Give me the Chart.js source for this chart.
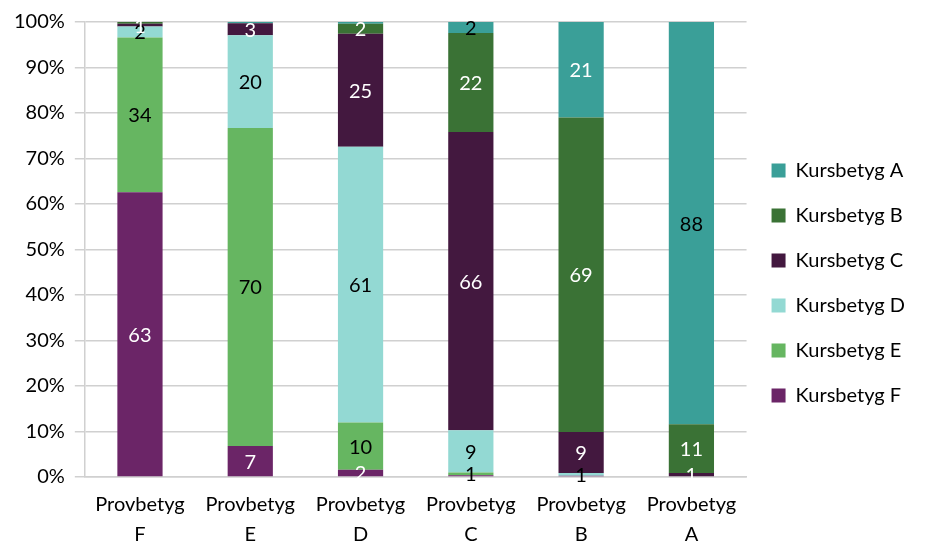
<!DOCTYPE html>
<html>
<head>
<meta charset="utf-8">
<script src="https://cdn.jsdelivr.net/npm/chart.js@4/dist/chart.umd.min.js"></script>
<style>
  body { margin: 0; background: #fff; }
  #wrap { width: 925px; height: 545px; }
</style>
</head>
<body>
<div id="wrap"><canvas id="bars"></canvas></div>
<script>
const categories = [['Provbetyg', 'F'], ['Provbetyg', 'E'], ['Provbetyg', 'D'], ['Provbetyg', 'C'], ['Provbetyg', 'B'], ['Provbetyg', 'A']];

// percent of students per Provbetyg column
const kursF = [62.6, 6.8, 1.6, 0.4, 0.3, 0];
const kursE = [34.0, 69.9, 10.4, 0.6, 0, 0];
const kursD = [2.4, 20.4, 60.6, 9.3, 0.6, 0];
const kursC = [0.6, 2.6, 24.8, 65.5, 9.0, 0.9];
const kursB = [0.4, 0, 2.2, 21.8, 69.1, 10.7];
const kursA = [0, 0.3, 0.4, 2.4, 21.0, 88.4];

const yTicks = [0, 10, 20, 30, 40, 50, 60, 70, 80, 90, 100];

const W = '#ffffff', K = '#000000';

const ctx = document.getElementById('bars').getContext('2d');
ctx.canvas.width = 925;
ctx.canvas.height = 545;

// draws the rounded value in the middle of each segment
const segLabels = {
  id: 'segLabels',
  afterDatasetsDraw(chart) {
    const c = chart.ctx;
    c.save();
    c.font = '20px Lato';
    c.textAlign = 'center';
    c.textBaseline = 'middle';
    chart.data.datasets.forEach((ds, i) => {
      const meta = chart.getDatasetMeta(i);
      meta.data.forEach((bar, j) => {
        const v = Math.round(ds.data[j]);
        if (!v) return;
        c.fillStyle = ds.labelColors[j];
        c.fillText(String(v), bar.x, (bar.y + bar.base) / 2 + 1);
      });
    });
    c.restore();
  }
};

const chart = new Chart(ctx, {
  type: 'bar',
  data: {
    labels: categories,
    datasets: [
      { label: 'Kursbetyg F', data: kursF, backgroundColor: '#6b2567', labelColors: [W, W, W, W, W, W] },
      { label: 'Kursbetyg E', data: kursE, backgroundColor: '#66b661', labelColors: [K, K, K, K, K, K] },
      { label: 'Kursbetyg D', data: kursD, backgroundColor: '#93d9d3', labelColors: [K, K, K, K, K, K] },
      { label: 'Kursbetyg C', data: kursC, backgroundColor: '#43183f', labelColors: [W, W, W, W, W, W] },
      { label: 'Kursbetyg B', data: kursB, backgroundColor: '#3a7235', labelColors: [W, W, W, W, W, W] },
      { label: 'Kursbetyg A', data: kursA, backgroundColor: '#3a9f98', labelColors: [K, K, K, K, W, K] }
    ]
  },
  options: {
    responsive: false,
    animation: false,
    maintainAspectRatio: false,
    layout: { padding: { top: 21, left: 4, right: 10, bottom: 0 } },
    datasets: { bar: { categoryPercentage: 1, barPercentage: 0.41 } },
    scales: {
      x: {
        stacked: true,
        afterFit: (axis) => { axis.height = 68; },
        grid: { display: false, drawTicks: false },
        border: { color: '#d0d0d0', width: 1.5 },
        ticks: { color: '#000', font: { family: 'Lato', size: 20, lineHeight: 1.5 }, maxRotation: 0, padding: 13 }
      },
      y: {
        stacked: true,
        min: 0,
        max: 100,
        afterBuildTicks: (axis) => { axis.ticks = yTicks.map(v => ({ value: v })); },
        grid: { color: '#d0d0d0', lineWidth: 1.5, tickLength: 10 },
        border: { color: '#d0d0d0', width: 1.5 },
        ticks: { color: '#000', font: { family: 'Lato', size: 20 }, padding: 10, callback: v => v + '%' }
      }
    },
    plugins: {
      legend: {
        position: 'right',
        reverse: true,
        labels: { color: '#000', font: { family: 'Lato', size: 20 }, boxWidth: 14, boxHeight: 14, padding: 25 }
      },
      tooltip: { enabled: false }
    }
  },
  plugins: [segLabels]
});
</script>
</body>
</html>
